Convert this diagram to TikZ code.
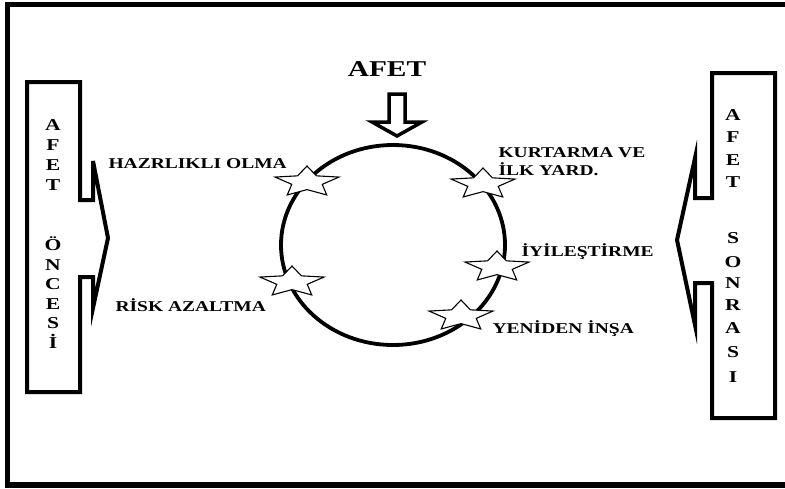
\documentclass[tikz,border=0pt]{standalone}
\usepackage{fontspec}
\setmainfont{Liberation Serif}
\usepackage{tikz}
\usetikzlibrary{shapes.geometric}

\begin{document}
\begin{tikzpicture}[x=0.5pt, y=-0.5pt,
  lbl/.style={font=\bfseries\fontsize{7.5}{9}\selectfont, xscale=1.3, inner sep=0, anchor=west, align=left},
  vlet/.style={font=\bfseries\fontsize{8.3}{9}\selectfont, xscale=1.3, inner sep=0, anchor=base},
  phasestar/.style={star, star points=5, star point ratio=2.1, draw, fill=white, line width=0.55pt, minimum size=16pt, inner sep=0, xscale=2.1}]
  \useasboundingbox (0,0) rectangle (785,488);
  \fill[white] (0,0) rectangle (785,488);

  % Outer frame (open on the right)
  \draw[line width=2.75pt, line join=miter] (785,4.5) -- (7.5,4.5) -- (7.5,485) -- (785,485);

  % Before the disaster (left)
  \draw[line width=2pt, line join=miter] (27,82) -- (80,82) -- (80,200) -- (93,200) -- (93,161) -- (108,238)
    -- (93,308) -- (93,277) -- (80,277) -- (80,392) -- (27,392) -- cycle;
  \foreach \ch/\yy in {A/130, F/150, E/170, T/190, Ö/250, N/270, C/289, E/309, S/328, İ/348}
    \node[vlet] (on-\yy) at (53,\yy) {\ch};

  % After the disaster (right)
  \draw[line width=2pt, line join=miter] (712,73) -- (775,73) -- (775,418) -- (712,418) -- (712,283) -- (695,283)
    -- (695,325) -- (677,240) -- (695,158) -- (695,198) -- (712,198) -- cycle;
  \foreach \ch/\yy in {A/120, F/142, E/165, T/187, S/243, O/267, N/288, R/310, A/333, S/357, I/382}
    \node[vlet] (son-\yy) at (733,\yy) {\ch};

  % Disaster hitting the cycle
  \node[font=\bfseries\fontsize{11.3}{13}\selectfont, xscale=1.3, inner sep=0] (afet) at (387,69) {AFET};
  \draw[line width=1.75pt, line join=miter] (389,94) -- (405,94) -- (405,122) -- (422,122) -- (397,136)
    -- (372,122) -- (389,122) -- cycle;

  % Cycle
  \draw[line width=1.9pt] (393,245) ellipse [x radius=112, y radius=100];

  % Phases
  \node[phasestar] (hazir) at (307,182) {};
  \node[phasestar] (kurt) at (483,184) {};
  \node[phasestar] (iyi) at (497,267) {};
  \node[phasestar] (risk) at (292,282) {};
  \node[phasestar] (yeni) at (461,316) {};

  \node[lbl] (t-hazir) at (108,164) {HAZRLIKLI OLMA};
  \node[lbl] (t-risk) at (115,305) {RİSK AZALTMA};
  \node[lbl] (t-kurt) at (498,162) {KURTARMA VE\\İLK YARD.};
  \node[lbl] (t-iyi) at (521,252) {İYİLEŞTİRME};
  \node[lbl] (t-yeni) at (492,329) {YENİDEN İNŞA};
\end{tikzpicture}
\end{document}
